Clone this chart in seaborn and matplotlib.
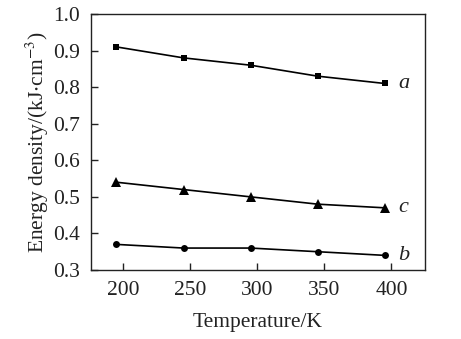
import matplotlib
matplotlib.use("Agg")
import matplotlib.pyplot as plt
import seaborn as sns
import pandas as pd

temperature = [195, 245, 295, 345, 395]
series_a = [0.91, 0.88, 0.86, 0.83, 0.81]
series_b = [0.37, 0.36, 0.36, 0.35, 0.34]
series_c = [0.54, 0.52, 0.50, 0.48, 0.47]
curve_labels = ["a", "b", "c"]
x_ticks = [200, 250, 300, 350, 400]
y_ticks = [0.3, 0.4, 0.5, 0.6, 0.7, 0.8, 0.9, 1.0]

sns.set_theme(style="ticks")
plt.rcParams["font.family"] = ["Liberation Serif", "DejaVu Serif"]
plt.rcParams["mathtext.fontset"] = "stix"

df = pd.DataFrame({
    "T": temperature * 3,
    "E": series_a + series_b + series_c,
    "curve": [c for c in curve_labels for _ in temperature],
})

fig = plt.figure(figsize=(4.61, 3.39), dpi=100)
ax = fig.add_axes([91 / 461, 1 - 270 / 339, (425 - 91) / 461, (270 - 14) / 339])

markers = {"a": "s", "b": "o", "c": "^"}
msize = {"a": 5, "b": 5, "c": 6.5}
for name in curve_labels:
    sub = df[df["curve"] == name]
    sns.lineplot(data=sub, x="T", y="E", ax=ax, color="black", lw=1.2,
                 marker=markers[name], markersize=msize[name], markeredgewidth=0,
                 legend=False)
    ax.text(sub["T"].iloc[-1] + 10, sub["E"].iloc[-1], name, fontsize=16,
            style="italic", va="center", ha="left", color="#222222")

ax.set_xlim(176, 425)
ax.set_ylim(0.3, 1.0)
ax.set_xticks(x_ticks)
ax.set_yticks(y_ticks)
ax.set_yticklabels([f"{v:.1f}" for v in y_ticks])
ax.tick_params(direction="in", length=5, width=1, labelsize=15.5, colors="#222222",
               top=False, right=False, pad=8)
for sp in ax.spines.values():
    sp.set_linewidth(1.0)
    sp.set_color("#222222")
ax.set_xlabel("Temperature/K", fontsize=15.5, color="#222222", labelpad=9)
ax.set_ylabel("Energy density/(kJ$\\cdot$cm$^{-3}$)", fontsize=15.5,
              color="#222222", labelpad=1)

fig.savefig("out.png", dpi=100)
